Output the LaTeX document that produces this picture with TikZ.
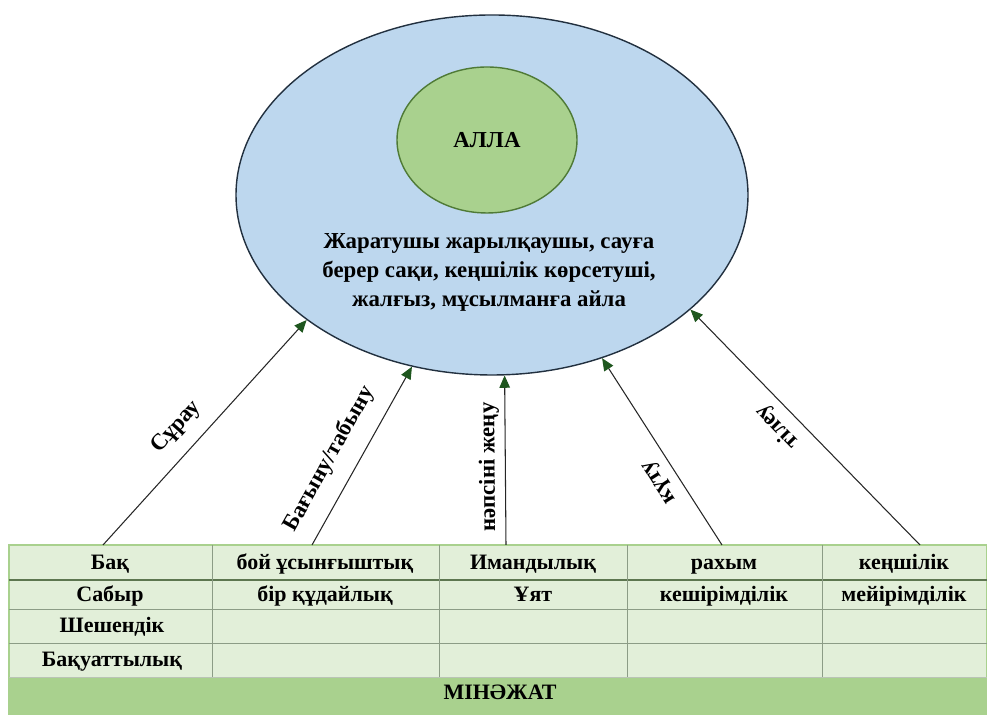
\documentclass[tikz,border=0pt]{standalone}
\usepackage{fontspec}
\setmainfont{Liberation Serif}[BoldFont={Liberation Serif Bold}]
\usetikzlibrary{shapes.geometric,arrows.meta}

\definecolor{skyblue}{HTML}{BDD7EE}
\definecolor{navyline}{HTML}{22303F}
\definecolor{leafgreen}{HTML}{A9D18E}
\definecolor{leafline}{HTML}{4F7A36}
\definecolor{rowgreen}{HTML}{E2EFD9}
\definecolor{rowline}{HTML}{8C9C86}
\definecolor{sepline}{HTML}{5D7650}
\definecolor{tipgreen}{HTML}{1E561E}

\begin{document}
\begin{tikzpicture}[
        txt/.style={font=\bfseries\fontsize{13}{16.5}\selectfont},
        cell/.style={font=\bfseries\fontsize{12.5}{15}\selectfont, text height=9pt, text depth=2.5pt},
        lbl/.style={font=\bfseries\fontsize{13}{16}\selectfont, sloped, allow upside down, inner sep=1pt},
        link/.style={draw=black!85, line width=0.6pt, -{Triangle[length=7pt,width=6pt,color=tipgreen]}}
    ]
        \useasboundingbox (0,0) rectangle (19.74,14.3);
        
        % Big ellipse, inner ellipse & text
        \node[ellipse, draw=navyline, line width=0.8pt, fill=skyblue, minimum width=10.24cm, minimum height=7.2cm, inner sep=0pt] (outer) at (9.84,10.4) {};
        \node[ellipse, draw=leafline, line width=0.8pt, fill=leafgreen, minimum width=3.6cm, minimum height=2.92cm, inner sep=0pt, txt] (alla) at (9.74,11.5) {АЛЛА};
        \node[txt, align=center] (attr) at (9.78,8.86) {Жаратушы жарылқаушы, сауға\\берер сақи, кеңшілік көрсетуші,\\жалғыз, мұсылманға айла};
        
        % Table background
        \fill[rowgreen] (0.18,0.76) rectangle (19.74,3.4);
        \fill[leafgreen] (0.18,0) rectangle (19.74,0.76);
        \draw[leafgreen, line width=0.8pt] (0.18,0) rectangle (19.74,3.4);
        
        % Row & column lines
        \draw[sepline, line width=1.3pt] (0.18,2.7) -- (19.74,2.7);
        \draw[rowline, line width=0.5pt] (0.18,2.12) -- (19.74,2.12);
        \draw[rowline, line width=0.5pt] (0.18,1.44) -- (19.74,1.44);
        \draw[rowline!60, line width=0.5pt] (0.18,0.76) -- (19.74,0.76);
        \draw[rowline, line width=0.5pt] (4.24,3.4) -- (4.24,0.76);
        \draw[rowline, line width=0.5pt] (8.78,3.4) -- (8.78,0.76);
        \draw[rowline, line width=0.5pt] (12.54,3.4) -- (12.54,0.76);
        \draw[rowline, line width=0.5pt] (16.44,3.4) -- (16.44,0.76);
        
        % First row
        \node[cell] (bak) at (2.2,3.02) {Бақ};
        \node[cell] (boi) at (6.5,3.02) {бой ұсынғыштық};
        \node[cell] (iman) at (10.66,3.02) {Имандылық};
        \node[cell] (rakhym) at (14.48,3.02) {рахым};
        \node[cell] (kenshilik) at (18.08,3.02) {кеңшілік};
        
        % Second row
        \node[cell] (sabyr) at (2.2,2.39) {Сабыр};
        \node[cell] (birkudai) at (6.5,2.39) {бір құдайлық};
        \node[cell] (uyat) at (10.66,2.39) {Ұят};
        \node[cell] (keshirim) at (14.48,2.39) {кешірімділік};
        \node[cell] (meiirim) at (18.08,2.39) {мейірімділік};
        
        % Left column & bottom band
        \node[cell] (sheshen) at (2.24,1.77) {Шешендік};
        \node[cell] (bakuat) at (2.24,1.09) {Бақуаттылық};
        \node[cell] (minazhat) at (10.0,0.42) {МІНӘЖАТ};
        
        % Arrow feet on the table top
        \coordinate (s1) at (2.06,3.4);
        \coordinate (s2) at (6.24,3.4);
        \coordinate (s3) at (10.12,3.4);
        \coordinate (s4) at (14.44,3.4);
        \coordinate (s5) at (18.4,3.4);
        
        % Arrows up to the ellipse
        \draw[link] (s1) -- (outer.214.8) node[lbl, pos=0.45, above=7pt] {Сұрау};
        \draw[link] (s2) -- (outer.245.9) node[lbl, pos=0.41, above=8pt] {Бағыну/табыну};
        \draw[link] (s3) -- (outer.274.4) node[lbl, pos=0.46, above=2pt] {нәпсіні жеңу};
        \draw[link] (s4) -- (outer.304.2) node[lbl, pos=0.39, above=4pt] {күту};
        \draw[link] (s5) -- (outer.330.5) node[lbl, pos=0.56, above=4pt] {тілеу};
    \end{tikzpicture}
\end{document}
